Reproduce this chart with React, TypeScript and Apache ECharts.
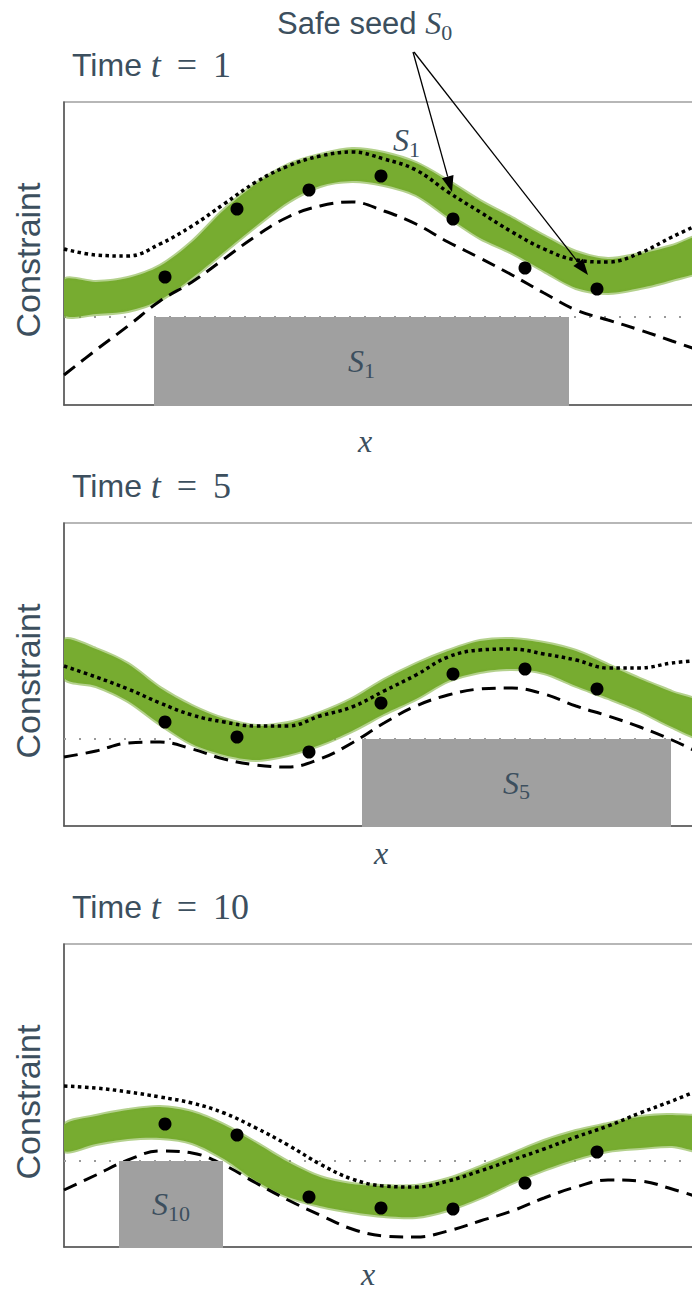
import React, { useEffect, useRef } from "react";
import * as echarts from "echarts";

// x positions of the samples (shared by every curve)
const X = [0, 32, 64, 96, 128, 160, 192, 224, 256, 288, 320, 352, 384, 416, 448, 480, 512, 544, 576, 608, 640];
const DOT_X = [101, 173, 245, 317, 389, 461, 533];

// Panel t = 1
const ucb1 = [156, 150, 149, 161, 179, 201, 223, 239, 249, 253, 246, 235, 213, 193, 173, 156, 145, 143, 152, 168, 183];
const lcb1 = [30, 55, 79, 104, 123, 146, 169, 188, 199, 203, 194, 181, 163, 147, 130, 112, 95, 85, 75, 64, 53];
const greenHi1 = [125, 123, 127, 139, 163, 195, 221, 240, 250, 256, 252, 242, 224, 204, 187, 169, 153, 146, 151, 159, 169];
const greenLo1 = [90, 91, 94, 105, 127, 153, 179, 203, 219, 224, 220, 210, 188, 167, 152, 134, 117, 112, 117, 125, 137];
const dots1 = [128, 196, 215, 229, 186, 137, 116];

// Panel t = 5
const ucb2 = [160, 149, 137, 123, 111, 104, 100, 100, 110, 119, 135, 151, 169, 176, 177, 172, 166, 158, 158, 163, 166];
const lcb2 = [69, 75, 83, 84, 77, 67, 61, 59, 67, 83, 103, 120, 131, 137, 138, 132, 120, 110, 99, 86, 71];
const greenHi2 = [186, 177, 162, 138, 120, 107, 100, 103, 113, 127, 146, 162, 175, 185, 187, 183, 175, 161, 147, 134, 121];
const greenLo2 = [148, 140, 125, 102, 82, 71, 66, 71, 81, 95, 112, 127, 145, 154, 157, 153, 140, 128, 115, 99, 88];
const dots2 = [104, 89, 74, 123, 152, 157, 137];

// Panel t = 10
const ucb3 = [161, 159, 155, 150, 144, 134, 119, 102, 83, 68, 61, 60, 66, 76, 87, 98, 110, 121, 134, 146, 159];
const lcb3 = [57, 72, 87, 96, 94, 82, 64, 47, 32, 18, 11, 10, 16, 26, 36, 49, 60, 67, 66, 58, 48];
const greenHi3 = [122, 131, 137, 140, 135, 122, 104, 85, 70, 63, 61, 61, 68, 80, 93, 106, 116, 123, 130, 132, 127];
const greenLo3 = [96, 103, 108, 109, 104, 88, 66, 50, 41, 35, 31, 30, 37, 49, 64, 77, 88, 96, 99, 101, 97];
const dots3 = [123, 112, 50, 39, 38, 64, 95];

const THRESHOLDS = [88, 87, 86];
const SAFE_SETS = [[90, 505], [298, 607], [55, 159]];
const TIMES = ["1", "5", "10"];

const GREEN = "#77ac30";
const TEXT = "#3c4f5e";
const SANS = "Liberation Sans, Arial, sans-serif";
const SERIF = "Liberation Serif, Times New Roman, serif";

const TOPS = [102, 523, 944];
const GRID_H = 303;

const SUB_RICH = {
  s: { fontFamily: SERIF, fontStyle: "italic", fontSize: 32, lineHeight: 40, fill: TEXT },
  b: { fontFamily: SERIF, fontSize: 22, lineHeight: 20, verticalAlign: "bottom", fill: TEXT },
  a: { fontFamily: SANS, fontSize: 31, lineHeight: 40, fill: TEXT },
};

const TIME_RICH = {
  a: { fontFamily: SANS, fontSize: 32, lineHeight: 40, fill: TEXT },
  t: { fontFamily: SERIF, fontStyle: "italic", fontSize: 36, lineHeight: 40, fill: TEXT },
  e: { fontFamily: SERIF, fontSize: 36, lineHeight: 40, padding: [0, 16, 0, 16], fill: TEXT },
  n: { fontFamily: SERIF, fontSize: 36, lineHeight: 40, fill: TEXT },
};

const panels = [
  { ucb: ucb1, lcb: lcb1, hi: greenHi1, lo: greenLo1, dots: dots1 },
  { ucb: ucb2, lcb: lcb2, hi: greenHi2, lo: greenLo2, dots: dots2 },
  { ucb: ucb3, lcb: lcb3, hi: greenHi3, lo: greenLo3, dots: dots3 },
];

function buildOption() {
  const series: any[] = [];
  panels.forEach((p, i) => {
    const thr = THRESHOLDS[i];
    const [sx0, sx1] = SAFE_SETS[i];
    // threshold
    series.push({
      type: "line",
      xAxisIndex: i,
      yAxisIndex: i,
      data: [[0, thr], [660, thr]],
      symbol: "none",
      z: 1,
      lineStyle: { color: "#999999", width: 2, type: [2, 13] },
      silent: true,
    });
    // green noisy observation band
    series.push({
      type: "custom",
      xAxisIndex: i,
      yAxisIndex: i,
      clip: true,
      z: 2,
      data: [[0, 0]],
      renderItem: (params: any, api: any) => {
        const top = p.hi.map((v, k) => api.coord([X[k], v]));
        const bot = p.lo.map((v, k) => api.coord([X[k], v])).reverse();
        return {
          type: "polygon",
          shape: { points: top.concat(bot), smooth: 0.3 },
          style: { fill: GREEN, stroke: "rgba(119,172,48,0.55)", lineWidth: 4 },
        };
      },
      silent: true,
    });
    // upper bound (dotted)
    series.push({
      type: "line",
      xAxisIndex: i,
      yAxisIndex: i,
      data: X.map((x, k) => [x, p.ucb[k]]),
      smooth: 0.4,
      symbol: "none",
      z: 3,
      lineStyle: { color: "#000", width: 3.5, type: [3.5, 3.5] },
      silent: true,
    });
    // lower bound (dashed)
    series.push({
      type: "line",
      xAxisIndex: i,
      yAxisIndex: i,
      data: X.map((x, k) => [x, p.lcb[k]]),
      smooth: 0.4,
      symbol: "none",
      z: 3,
      lineStyle: { color: "#000", width: 3, type: [14, 8] },
      silent: true,
    });
    // samples
    series.push({
      type: "scatter",
      xAxisIndex: i,
      yAxisIndex: i,
      data: DOT_X.map((x, k) => [x, p.dots[k]]),
      symbolSize: 13,
      itemStyle: { color: "#000", opacity: 1 },
      z: 4,
      silent: true,
    });
    // safe set
    series.push({
      type: "custom",
      xAxisIndex: i,
      yAxisIndex: i,
      clip: false,
      z: 5,
      data: [[sx0, sx1, thr]],
      renderItem: (params: any, api: any) => {
        const a = api.coord([sx0, thr]);
        const b = api.coord([sx1, 0]);
        return {
          type: "group",
          children: [
            {
              type: "rect",
              shape: { x: a[0], y: a[1], width: b[0] - a[0], height: b[1] - a[1] + 1 },
              style: { fill: "#a0a0a0" },
            },
            {
              type: "text",
              style: {
                x: (a[0] + b[0]) / 2,
                y: (a[1] + b[1]) / 2,
                text: `{s|S}{b|${TIMES[i]}}`,
                rich: SUB_RICH,
                align: "center",
                verticalAlign: "middle",
                fill: TEXT,
              },
            },
          ],
        };
      },
      silent: true,
    });
  });

  const graphic: any[] = [];
  TOPS.forEach((t, i) => {
    graphic.push({
      type: "text",
      x: 72,
      y: t - 37,
      z: 10,
      style: {
        text: `{a|Time }{t|t}{e|=}{n|${TIMES[i]}}`,
        rich: TIME_RICH,
        align: "left",
        verticalAlign: "middle",
        fill: TEXT,
      },
    });
    graphic.push({
      type: "text",
      x: 28,
      y: t + 158,
      z: 10,
      rotation: Math.PI / 2,
      style: {
        text: "Constraint",
        fontFamily: SANS,
        fontSize: 34,
        fill: TEXT,
        align: "center",
        verticalAlign: "middle",
      },
    });
  });
  const xLabelPos = [[365, 441], [381, 853], [368, 1274]];
  xLabelPos.forEach(([x, y]) => {
    graphic.push({
      type: "text",
      x,
      y,
      z: 10,
      style: {
        text: "x",
        fontFamily: SERIF,
        fontStyle: "italic",
        fontSize: 32,
        fill: TEXT,
        align: "center",
        verticalAlign: "middle",
      },
    });
  });
  // Safe seed annotation
  graphic.push({
    type: "text",
    x: 277,
    y: 23,
    z: 10,
    style: {
      text: "{a|Safe seed }{s|S}{b|0}",
      rich: SUB_RICH,
      align: "left",
      verticalAlign: "middle",
      fill: TEXT,
    },
  });
  graphic.push({
    type: "text",
    x: 393,
    y: 140,
    z: 10,
    style: {
      text: "{s|S}{b|1}",
      rich: SUB_RICH,
      align: "left",
      verticalAlign: "middle",
      fill: TEXT,
    },
  });
  // arrows
  graphic.push({ type: "line", z: 10, shape: { x1: 413, y1: 52, x2: 447.7, y2: 176.6 }, style: { stroke: "#000", lineWidth: 1.3 } });
  graphic.push({ type: "polygon", z: 10, shape: { points: [[452, 192], [441.9, 178.2], [453.5, 175.0]] }, style: { fill: "#000" } });
  graphic.push({ type: "line", z: 10, shape: { x1: 414, y1: 52, x2: 578.2, y2: 262.4 }, style: { stroke: "#000", lineWidth: 1.3 } });
  graphic.push({ type: "polygon", z: 10, shape: { points: [[588, 275], [573.4, 266.1], [582.9, 258.7]] }, style: { fill: "#000" } });

  return {
    animation: false,
    backgroundColor: "#ffffff",
    grid: TOPS.map((t) => ({
      left: 64,
      top: t,
      width: 660,
      height: GRID_H,
      show: true,
      borderColor: "#a0a0a0",
      borderWidth: 1.5,
      backgroundColor: "#ffffff",
    })),
    xAxis: TOPS.map((_, i) => ({
      type: "value",
      gridIndex: i,
      min: 0,
      max: 660,
      axisLine: { show: true, onZero: false, lineStyle: { color: "#555", width: 1.5 } },
      axisTick: { show: false },
      axisLabel: { show: false },
      splitLine: { show: false },
    })),
    yAxis: TOPS.map((_, i) => ({
      type: "value",
      gridIndex: i,
      min: 0,
      max: GRID_H,
      axisLine: { show: true, onZero: false, lineStyle: { color: "#555", width: 1.5 } },
      axisTick: { show: false },
      axisLabel: { show: false },
      splitLine: { show: false },
    })),
    series,
    graphic,
  };
}

export default function App() {
  const ref = useRef<HTMLDivElement>(null);
  useEffect(() => {
    if (!ref.current) return;
    const chart = echarts.init(ref.current, undefined, { renderer: "svg" });
    chart.setOption(buildOption() as any);
    return () => chart.dispose();
  }, []);
  return (
    <div style={{ position: "absolute", left: 0, top: 0, width: 692, height: 1292, overflow: "hidden", background: "#fff" }}>
      <div ref={ref} style={{ width: 760, height: 1292 }} />
    </div>
  );
}
